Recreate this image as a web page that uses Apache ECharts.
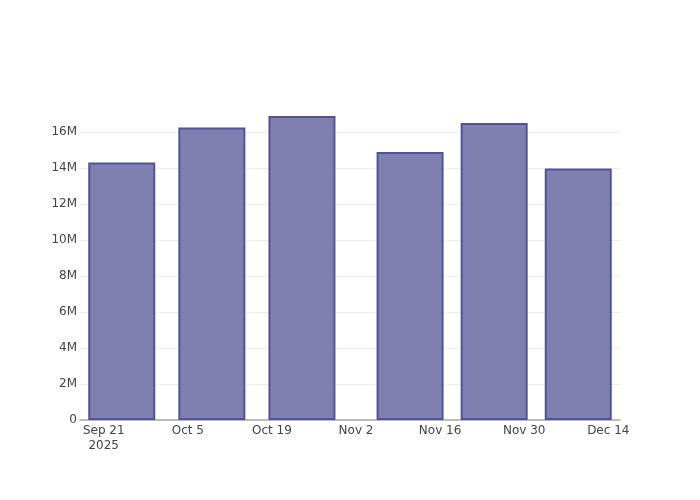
<!DOCTYPE html>
<html>
<head>
<meta charset="utf-8">
<script src="https://cdn.jsdelivr.net/npm/echarts@6/dist/echarts.min.js"></script>
<style>html,body{margin:0;padding:0;background:#fff}#c{width:700px;height:500px}</style>
</head>
<body>
<div id="c"></div>
<script>
var barDates = ['2025-09-24', '2025-10-09', '2025-10-24', '2025-11-11', '2025-11-25', '2025-12-09'];
var barValues = [14.31e6, 16.25e6, 16.89e6, 14.89e6, 16.5e6, 13.97e6];
var tickDates = ['2025-09-21', '2025-10-05', '2025-10-19', '2025-11-02', '2025-11-16', '2025-11-30', '2025-12-14'];
var tickLabels = ['Sep 21\n2025', 'Oct 5', 'Oct 19', 'Nov 2', 'Nov 16', 'Nov 30', 'Dec 14'];
var yTickLabels = ['0', '2M', '4M', '6M', '8M', '10M', '12M', '14M', '16M'];

var DAY = 86400000;
function ts(s) { return Date.parse(s + 'T00:00:00Z'); }
var tickTs = tickDates.map(ts);
var labelMap = {};
tickTs.forEach(function (t, i) { labelMap[t] = tickLabels[i]; });

var chart = echarts.init(document.getElementById('c'), null, { renderer: 'canvas' });
chart.setOption({
  animation: false,
  backgroundColor: '#fff',
  textStyle: { fontFamily: 'DejaVu Sans' },
  grid: { left: 80, right: 80, top: 100, bottom: 80, containLabel: false },
  xAxis: {
    type: 'value',
    min: ts('2025-09-17') + 0.05 * DAY,
    max: ts('2025-12-15') + 0.95 * DAY,
    splitLine: { show: false },
    axisLine: { show: true, lineStyle: { color: '#aaaaaa', width: 1.5 } },
    axisTick: { show: false },
    axisLabel: {
      customValues: tickTs,
      margin: 3,
      fontSize: 12,
      color: '#444',
      lineHeight: 15,
      fontFamily: 'DejaVu Sans',
      formatter: function (v) { return labelMap[v] || ''; }
    }
  },
  yAxis: {
    type: 'value',
    min: 0,
    max: 17.78e6,
    interval: 2e6,
    axisLine: { show: false },
    axisTick: { show: false },
    splitLine: { showMaxLine: false, lineStyle: { color: '#eeeeee', width: 1 } },
    axisLabel: {
      margin: 3,
      fontSize: 12,
      color: '#444',
      fontFamily: 'DejaVu Sans',
      showMaxLabel: false,
      formatter: function (v) { return yTickLabels[Math.round(v / 2e6)] || ''; }
    }
  },
  series: [{
    type: 'bar',
    barWidth: 67,
    data: barDates.map(function (d, i) { return [ts(d), barValues[i]]; }),
    itemStyle: { color: '#8080b0', borderColor: '#52529a', borderWidth: 2 }
  }]
});
</script>
</body>
</html>
